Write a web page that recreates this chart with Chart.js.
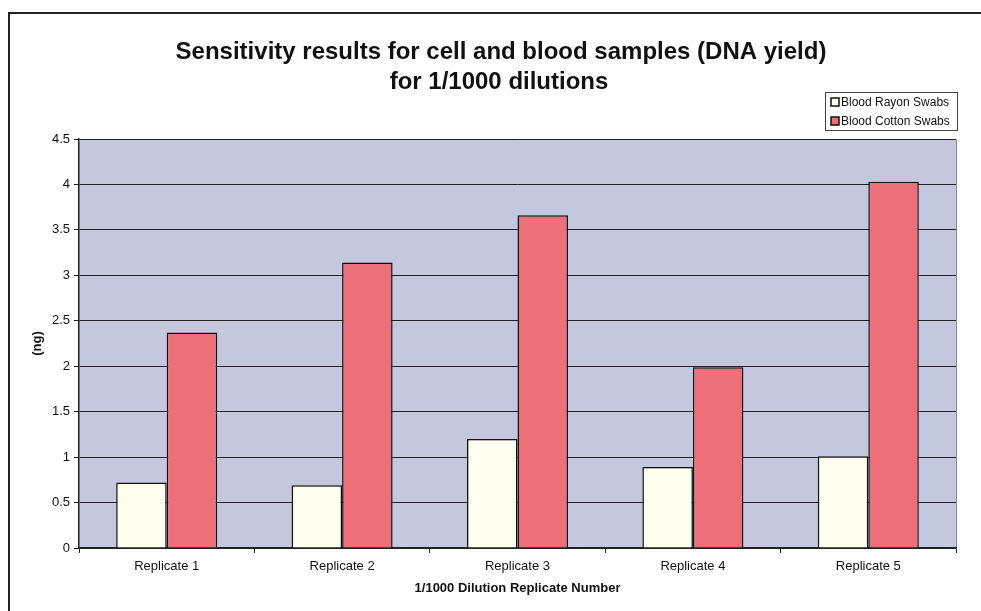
<!DOCTYPE html>
<html>
<head>
<meta charset="utf-8">
<script src="https://cdn.jsdelivr.net/npm/chart.js@4"></script>
<style>
    html, body { margin: 0; padding: 0; background: #fff; }
    #wrap { position: relative; width: 981px; height: 611px; }
</style>
</head>
<body>
<div id="wrap"><canvas id="chart" width="981" height="611"></canvas></div>
<script>
var categories = ['Replicate 1', 'Replicate 2', 'Replicate 3', 'Replicate 4', 'Replicate 5'];
var rayonValues = [0.72, 0.69, 1.2, 0.89, 1.01];
var cottonValues = [2.37, 3.14, 3.66, 1.99, 4.03];
var seriesNames = ['Blood Rayon Swabs', 'Blood Cotton Swabs'];
var titleLines = ['Sensitivity results for cell and blood samples (DNA yield)', 'for 1/1000 dilutions'];
var yMin = 0, yMax = 4.5, yStep = 0.5;

var FONT = '"Liberation Sans", Arial, sans-serif';

// background of plot, frame, title, boxed legend
var decorPlugin = {
    id: 'decor',
    beforeDraw: function (chart) {
        var ctx = chart.ctx;
        var a = chart.chartArea;
        ctx.save();
        ctx.fillStyle = '#c4c7de';
        ctx.fillRect(a.left, a.top, a.right - a.left, a.bottom - a.top);
        ctx.strokeStyle = '#8a8a8a';
        ctx.lineWidth = 1;
        ctx.beginPath();
        ctx.moveTo(a.left, a.top + 0.5);
        ctx.lineTo(a.right + 0.5, a.top + 0.5);
        ctx.lineTo(a.right + 0.5, a.bottom);
        ctx.stroke();
        ctx.restore();
    },
    afterDraw: function (chart) {
        var ctx = chart.ctx;
        ctx.save();
        // outer frame
        ctx.strokeStyle = '#222';
        ctx.lineWidth = 2;
        ctx.beginPath();
        ctx.moveTo(9, 611);
        ctx.lineTo(9, 13);
        ctx.lineTo(981, 13);
        ctx.stroke();

        // title
        ctx.fillStyle = '#111';
        ctx.font = 'bold 24px ' + FONT;
        ctx.textAlign = 'center';
        ctx.textBaseline = 'middle';
        ctx.fillText(titleLines[0], 501, 52);
        ctx.fillText(titleLines[1], 499, 82);

        // legend box
        var lx = 825, ly = 92, lw = 132, lh = 38;
        ctx.fillStyle = '#fff';
        ctx.fillRect(lx, ly, lw, lh);
        ctx.strokeStyle = '#444';
        ctx.lineWidth = 1;
        ctx.strokeRect(lx + 0.5, ly + 0.5, lw, lh);
        ctx.font = '12px ' + FONT;
        ctx.textAlign = 'left';
        chart.data.datasets.forEach(function (ds, i) {
            var cy = ly + 10 + i * 19;
            ctx.fillStyle = ds.backgroundColor;
            ctx.fillRect(lx + 6, cy - 4, 8, 8);
            ctx.strokeStyle = '#111';
            ctx.lineWidth = 1.5;
            ctx.strokeRect(lx + 6, cy - 4, 8, 8);
            ctx.fillStyle = '#111';
            ctx.fillText(ds.label, lx + 16, cy + 1);
        });
        ctx.restore();
    }
};

new Chart(document.getElementById('chart'), {
    type: 'bar',
    data: {
        labels: categories,
        datasets: [
            {
                label: seriesNames[0],
                data: rayonValues,
                backgroundColor: '#fffff0',
                borderColor: '#111',
                borderWidth: 1.5
            },
            {
                label: seriesNames[1],
                data: cottonValues,
                backgroundColor: '#ec6f79',
                borderColor: '#111',
                borderWidth: 1.5
            }
        ]
    },
    options: {
        responsive: false,
        animation: false,
        categoryPercentage: 0.576,
        barPercentage: 1,
        layout: { padding: { left: 30, right: 25, top: 139, bottom: 0 } },
        plugins: {
            legend: { display: false },
            title: { display: false },
            tooltip: { enabled: false }
        },
        scales: {
            x: {
                afterFit: function (scale) { scale.height = 63; },
                grid: {
                    offset: true,
                    drawOnChartArea: false,
                    drawTicks: true,
                    tickLength: 5,
                    color: '#222'
                },
                border: { color: '#222', width: 1.5 },
                ticks: {
                    color: '#111',
                    padding: 6,
                    font: { family: FONT, size: 13 }
                },
                title: {
                    display: true,
                    text: '1/1000 Dilution Replicate Number',
                    color: '#111',
                    padding: { top: 4, bottom: 15 },
                    font: { family: FONT, size: 13, weight: 'bold' }
                }
            },
            y: {
                min: yMin,
                max: yMax,
                afterFit: function (scale) { scale.width = 49; },
                grid: {
                    color: '#222',
                    lineWidth: 1,
                    tickLength: 5
                },
                border: { color: '#222', width: 1.5 },
                ticks: {
                    stepSize: yStep,
                    color: '#111',
                    padding: 4,
                    font: { family: FONT, size: 13 },
                    callback: function (value) { return String(value); }
                },
                title: {
                    display: true,
                    text: '(ng)',
                    color: '#111',
                    padding: { top: 0, bottom: 0 },
                    font: { family: FONT, size: 13, weight: 'bold' }
                }
            }
        }
    },
    plugins: [decorPlugin]
});
</script>
</body>
</html>
